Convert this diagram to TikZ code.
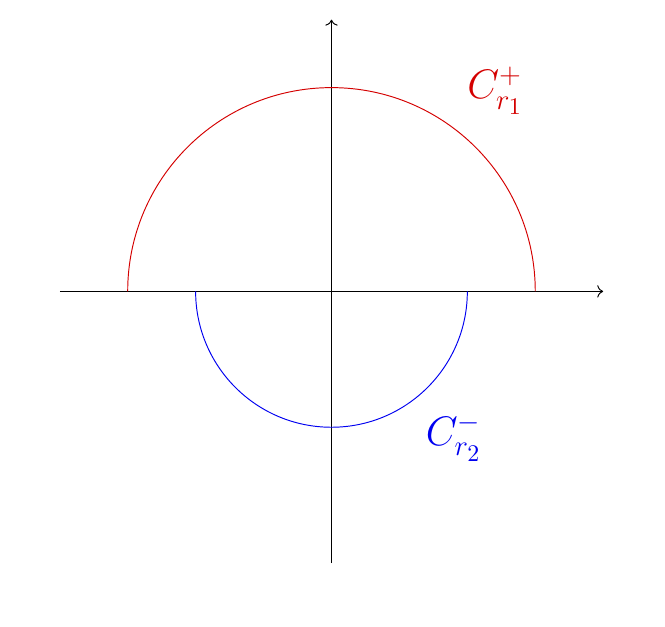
\documentclass[tikz,border=0pt]{standalone}
\usepackage{xcolor}
\definecolor{arcred}{HTML}{D40000}
\definecolor{arcblue}{HTML}{0000F0}
\usepackage{tikz}
\usetikzlibrary{arrows.meta, positioning}

\begin{document}
\begin{tikzpicture}[
  axis/.style={->, thin, color=black},
  arcup/.style={thin, color=arcred},
  arcdown/.style={thin, color=arcblue},
  lbl/.style={font=\LARGE}
]
  \useasboundingbox (-4.88,-4.93) rectangle (4.91,4.29);

  % axes
  \coordinate (xl) at (-4,0);
  \coordinate (xr) at (4,0);
  \coordinate (yb) at (0,-4);
  \coordinate (yt) at (0,4);
  \draw[axis] (xl) -- (xr);
  \draw[axis] (yb) -- (yt);

  % contours
  \coordinate (r1) at (3,0);
  \coordinate (r2) at (2,0);
  \draw[arcup]   (r1) arc[start angle=0, end angle=180, radius=3];
  \draw[arcdown] (r2) arc[start angle=0, end angle=-180, radius=2];

  \node[lbl, text=arcred]  (cup)   at (2.41,2.95)  {$C_{r_1}^{+}$};
  \node[lbl, text=arcblue] (cdown) at (1.8,-2.15) {$C_{r_2}^{-}$};
\end{tikzpicture}
\end{document}
